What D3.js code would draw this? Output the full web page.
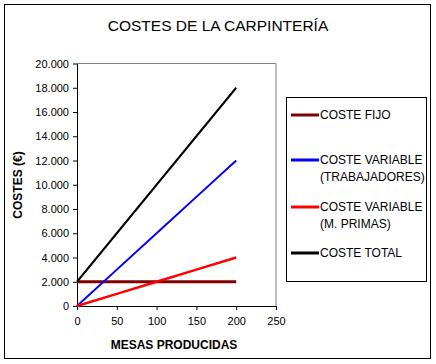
<!DOCTYPE html>
<html><head><meta charset="utf-8">
<script src="https://cdn.jsdelivr.net/npm/d3@7"></script>
<style>body{margin:0;background:#fff}text{font-family:"Liberation Sans",Arial,sans-serif}</style>
</head><body><svg id="c" width="436" height="364"></svg>
<script>
const mesas = [0, 50, 100, 150, 200];
const costeFijo = [2000, 2000, 2000, 2000, 2000];
const costeTrabajadores = [0, 3000, 6000, 9000, 12000];
const costePrimas = [0, 1000, 2000, 3000, 4000];
const costeTotal = [2000, 6000, 10000, 14000, 18000];
const xTicks = [0, 50, 100, 150, 200, 250];
const yTicks = [0, 2000, 4000, 6000, 8000, 10000, 12000, 14000, 16000, 18000, 20000];
const seriesNames = [["COSTE FIJO"], ["COSTE VARIABLE", "(TRABAJADORES)"], ["COSTE VARIABLE", "(M. PRIMAS)"], ["COSTE TOTAL"]];
const seriesColors = ["#800000", "#0000FF", "#FF0000", "#000000"];
const seriesWidths = [3, 2, 2.5, 2];
const seriesValues = [costeFijo, costeTrabajadores, costePrimas, costeTotal];

const svg = d3.select("#c");
svg.append("rect").attr("x", 4.5).attr("y", 4.5).attr("width", 426).attr("height", 354)
  .attr("fill", "#fff").attr("stroke", "#000").attr("stroke-width", 1);

svg.append("text").attr("x", 218).attr("y", 31).attr("text-anchor", "middle")
  .attr("font-size", 15.5).text("COSTES DE LA CARPINTERÍA");

const L = 77, R = 276, T = 63.5, B = 306;
const x = d3.scaleLinear().domain([0, 250]).range([L, R]);
const y = d3.scaleLinear().domain([0, 20000]).range([B, T]);
const loc = d3.formatLocale({decimal: ",", thousands: ".", grouping: [3], currency: ["", "€"]});
const fmt = loc.format(",d");

// plot border (gray)
svg.append("path").attr("d", `M${L},${T}H${R}V${B}`).attr("fill", "none").attr("stroke", "#808080");

const gx = svg.append("g").attr("transform", `translate(0,${B})`)
  .call(d3.axisBottom(x).tickValues(xTicks).tickSize(4).tickSizeOuter(0));
const gy = svg.append("g").attr("transform", `translate(${L},0)`)
  .call(d3.axisLeft(y).tickValues(yTicks).tickFormat(fmt).tickSize(4).tickSizeOuter(0));
[gx, gy].forEach(g => {
  g.selectAll("path,line").attr("stroke", "#000");
  g.selectAll("text").attr("font-size", 11).attr("font-family", '"Liberation Sans",Arial,sans-serif').attr("fill", "#000");
});
gx.selectAll("text").attr("dy", "1.1em");
gy.selectAll("text").attr("dx", "-1");

const line = d3.line().x((d, i) => x(mesas[i])).y(d => y(d));
seriesValues.forEach((vals, k) => {
  svg.append("path").datum(vals).attr("d", line).attr("fill", "none")
    .attr("stroke", seriesColors[k]).attr("stroke-width", seriesWidths[k]);
});

svg.append("text").attr("x", 174).attr("y", 349).attr("text-anchor", "middle")
  .attr("font-size", 12).attr("font-weight", "bold").text("MESAS PRODUCIDAS");
svg.append("text").attr("transform", "translate(22,185) rotate(-90)").attr("text-anchor", "middle")
  .attr("font-size", 12).attr("font-weight", "bold").text("COSTES (€)");

// legend
svg.append("rect").attr("x", 286.5).attr("y", 97.5).attr("width", 140).attr("height", 184)
  .attr("fill", "#fff").attr("stroke", "#000");
const rowsY = [115, 160, 207, 253];
seriesNames.forEach((lines, k) => {
  const g = svg.append("g");
  g.append("line").attr("x1", 291).attr("x2", 319).attr("y1", rowsY[k]).attr("y2", rowsY[k])
    .attr("stroke", seriesColors[k]).attr("stroke-width", 3);
  lines.forEach((t, j) => {
    g.append("text").attr("x", 320).attr("y", rowsY[k] + 4 + j * 16.5)
      .attr("font-size", 12).text(t);
  });
});
</script></body></html>
